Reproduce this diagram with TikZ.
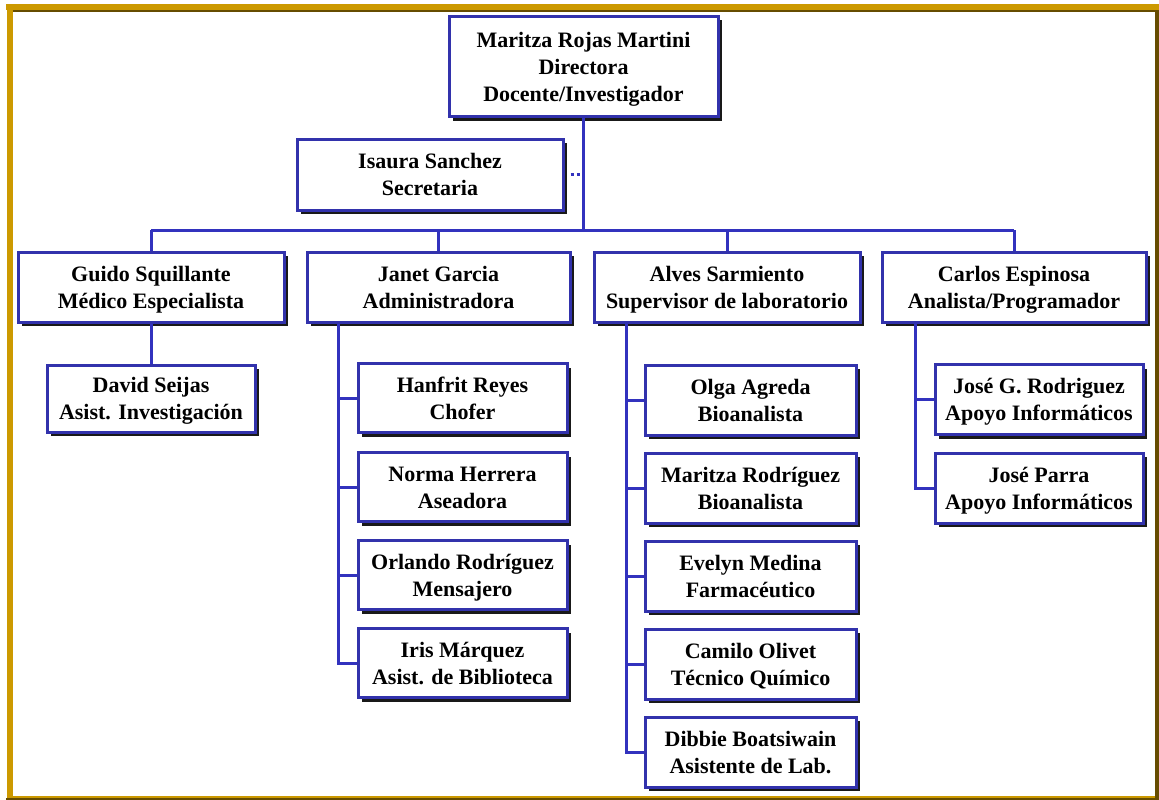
\documentclass[tikz,border=0pt]{standalone}
\usepackage{fontspec}
\setmainfont{Liberation Serif}
\usetikzlibrary{shadows}
\definecolor{gold}{RGB}{204,153,0}
\definecolor{goldshade}{RGB}{102,76,0}
\definecolor{boxblue}{RGB}{50,50,172}
\definecolor{lineblue}{RGB}{50,50,190}
\tikzset{
  orgbox/.style={draw=boxblue, line width=3pt, fill=white, align=center,
    inner sep=0pt, text=black,
    font=\bfseries\fontsize{22}{27}\selectfont,
    drop shadow={shadow xshift=4pt, shadow yshift=-4pt, fill=black, opacity=0.9}},
  conn/.style={draw=lineblue, line width=3pt},
  dotconn/.style={draw=lineblue, line width=3pt, dash pattern=on 3pt off 3pt},
}
% a fixed-size strut per row so every box sets its rows on the same baselines
\newcommand{\rowstrut}{\rule[-6pt]{0pt}{27pt}}
\newcommand{\rows}[2]{\rowstrut #1\\\rowstrut #2}
\begin{document}
\begin{tikzpicture}[x=1pt, y=-1pt]
  \useasboundingbox (0,0) rectangle (1159,800);
  \fill[white] (0,0) rectangle (1159,800);

  % frame
  \fill[gold] (6,4) rectangle (1159,10);
  \fill[goldshade] (10,10) rectangle (1155,12);
  \fill[gold] (7,10) rectangle (13,798);
  \fill[gold] (13,796) rectangle (1155,798);
  \fill[goldshade] (6,798) rectangle (1159,800);
  \fill[goldshade] (1155,10) rectangle (1159,800);

  % top levels
  \node[orgbox, minimum width=269pt, minimum height=100pt] (dir) at (583.5,66.5)
    {\rowstrut Maritza Rojas Martini\\\rowstrut Directora\\\rowstrut Docente/Investigador};
  \node[orgbox, minimum width=266pt, minimum height=71pt] (sec) at (430,174.5)
    {\rows{Isaura Sanchez}{Secretaria}};

  \node[orgbox, minimum width=266pt, minimum height=70pt] (guido) at (151,287)
    {\rows{Guido Squillante}{Médico Especialista}};
  \node[orgbox, minimum width=263pt, minimum height=70pt] (janet) at (438.5,287)
    {\rows{Janet Garcia}{Administradora}};
  \node[orgbox, minimum width=266pt, minimum height=70pt] (alves) at (727,287)
    {\rows{Alves Sarmiento}{Supervisor de laboratorio}};
  \node[orgbox, minimum width=264pt, minimum height=70pt] (carlos) at (1014,287)
    {\rows{Carlos Espinosa}{Analista/Programador}};

  % under Guido
  \node[orgbox, minimum width=208pt, minimum height=67pt] (david) at (151,398.5)
    {\rows{David Seijas}{Asist. Investigación}};

  % under Janet
  \node[orgbox, minimum width=209pt, minimum height=69pt] (hanfrit) at (462.5,398)
    {\rows{Hanfrit Reyes}{Chofer}};
  \node[orgbox, minimum width=209pt, minimum height=69pt] (norma) at (462.5,487)
    {\rows{Norma Herrera}{Aseadora}};
  \node[orgbox, minimum width=209pt, minimum height=69pt] (orlando) at (462.5,575)
    {\rows{Orlando Rodríguez}{Mensajero}};
  \node[orgbox, minimum width=209pt, minimum height=69pt] (iris) at (462.5,663)
    {\rows{Iris Márquez}{Asist. de Biblioteca}};

  % under Alves
  \node[orgbox, minimum width=211pt, minimum height=70pt] (olga) at (750.5,400)
    {\rows{Olga Agreda}{Bioanalista}};
  \node[orgbox, minimum width=211pt, minimum height=70pt] (maritzar) at (750.5,488)
    {\rows{Maritza Rodríguez}{Bioanalista}};
  \node[orgbox, minimum width=211pt, minimum height=70pt] (evelyn) at (750.5,576)
    {\rows{Evelyn Medina}{Farmacéutico}};
  \node[orgbox, minimum width=211pt, minimum height=70pt] (camilo) at (750.5,664)
    {\rows{Camilo Olivet}{Técnico Químico}};
  \node[orgbox, minimum width=211pt, minimum height=70pt] (dibbie) at (750.5,752)
    {\rows{Dibbie Boatsiwain}{Asistente de Lab.}};

  % under Carlos
  \node[orgbox, minimum width=208pt, minimum height=70pt] (joseg) at (1039,399.5)
    {\rows{José G. Rodriguez}{Apoyo Informáticos}};
  \node[orgbox, minimum width=208pt, minimum height=70pt] (josep) at (1039,488)
    {\rows{José Parra}{Apoyo Informáticos}};

  % trunk positions
  \coordinate (bus) at (0,230);
  \coordinate (jx) at (338,0);
  \coordinate (ax) at (626,0);
  \coordinate (cx) at (915,0);

  % connectors
  \draw[conn] (dir.south) -- (dir.south |- bus);
  \draw[dotconn] ([xshift=6pt]sec.east) -- (sec.east -| dir.south);
  \draw[conn] (guido.north |- bus) -- (carlos.north |- bus);
  \draw[conn] (guido.north |- bus) -- (guido.north);
  \draw[conn] (janet.north |- bus) -- (janet.north);
  \draw[conn] (alves.north |- bus) -- (alves.north);
  \draw[conn] (carlos.north |- bus) -- (carlos.north);

  \draw[conn] (guido.south) -- (david.north);

  \draw[conn] (jx |- janet.south) |- (iris.west);
  \draw[conn] (jx |- hanfrit.west) -- (hanfrit.west);
  \draw[conn] (jx |- norma.west) -- (norma.west);
  \draw[conn] (jx |- orlando.west) -- (orlando.west);

  \draw[conn] (ax |- alves.south) |- (dibbie.west);
  \draw[conn] (ax |- olga.west) -- (olga.west);
  \draw[conn] (ax |- maritzar.west) -- (maritzar.west);
  \draw[conn] (ax |- evelyn.west) -- (evelyn.west);
  \draw[conn] (ax |- camilo.west) -- (camilo.west);

  \draw[conn] (cx |- carlos.south) |- (josep.west);
  \draw[conn] (cx |- joseg.west) -- (joseg.west);
\end{tikzpicture}
\end{document}
